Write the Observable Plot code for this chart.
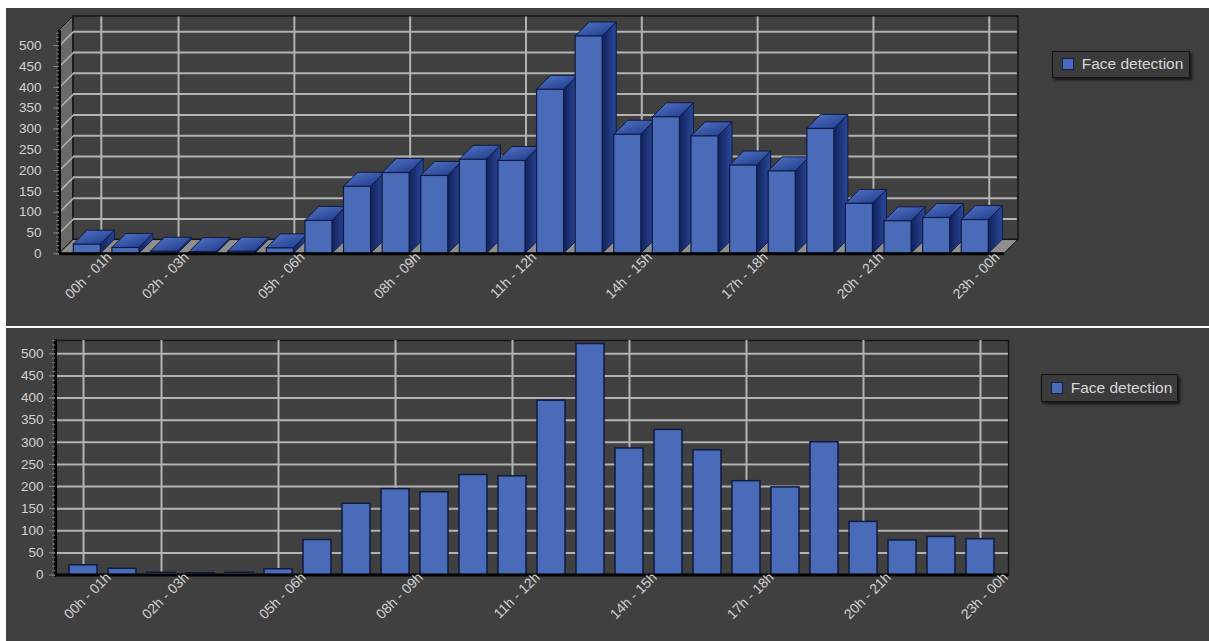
<!DOCTYPE html>
<html><head><meta charset="utf-8">
<script src="https://cdn.jsdelivr.net/npm/d3@7"></script>
<script src="https://cdn.jsdelivr.net/npm/@observablehq/plot@0.6"></script>
<style>
html,body{margin:0;padding:0;background:#fff;width:1209px;height:641px;overflow:hidden;}
.panel{position:absolute;left:6px;width:1203px;background:#404040;}
#p1{top:8px;height:318px;}
#p2{top:328px;height:313px;}
.legend{position:absolute;background:#3b3b3b;border:1px solid #141414;box-shadow:2px 2px 3px rgba(0,0,0,0.7);font-family:"Liberation Sans",Arial,sans-serif;font-size:15.5px;color:#d6d6d6;box-sizing:border-box;}
.legend .sw{position:absolute;width:10px;height:10px;background:#4a6cb8;border:1px solid #0f1d45;}
.legend .lt{position:absolute;white-space:nowrap;}
svg{position:absolute;left:0;top:0;}
</style></head><body>
<div id="p1" class="panel"></div>
<div id="p2" class="panel"></div>
<script>
// ---- data ----
const hours = ["00h - 01h","01h - 02h","02h - 03h","03h - 04h","04h - 05h","05h - 06h","06h - 07h","07h - 08h",
  "08h - 09h","09h - 10h","10h - 11h","11h - 12h","12h - 13h","13h - 14h","14h - 15h","15h - 16h",
  "16h - 17h","17h - 18h","18h - 19h","19h - 20h","20h - 21h","21h - 22h","22h - 23h","23h - 00h"];
const faceDetection = [22,14,5,4,5,13,79,161,194,187,226,223,394,522,286,328,282,212,198,300,120,78,86,81];
const yTicks = [0,50,100,150,200,250,300,350,400,450,500];
const labeledHours = ["00h - 01h","02h - 03h","05h - 06h","08h - 09h","11h - 12h","14h - 15h","17h - 18h","20h - 21h","23h - 00h"];
const seriesName = "Face detection";

// ---- styles ----
const bg = "#404040", grid = "#b2b2b2", barFill = "#4a6cb8", barStroke = "#0e1a42", txt = "#d2d2d2";
const font = "Liberation Sans, Arial, sans-serif";
const rows = hours.map((h, i) => ({hour: h, i, value: faceDetection[i]}));
const labeledRows = rows.filter(d => labeledHours.includes(d.hour));
const minorTicks = d3.range(0, 531, 10);

function legend(panel, left, top, w, h) {
  const L = document.createElement("div");
  L.className = "legend";
  Object.assign(L.style, {left: left + "px", top: top + "px", width: w + "px", height: h + "px"});
  L.innerHTML = `<div class="sw" style="left:9px;top:${(h-14)/2}px"></div><div class="lt" style="left:29px;top:${(h-20)/2}px">${seriesName}</div>`;
  panel.appendChild(L);
}

// ---- top panel: 3D bars ----
const X0 = -0.72, X1 = 24.12, YMAX = 570, DX = 0.363, DY = 33.6, HALF = 0.35;
const frontTop = YMAX - DY;
const tops = rows.flatMap(d => [
  {i: d.i, y: d.value, a: d.i - HALF, b: d.i + HALF},
  {i: d.i, y: d.value + DY, a: d.i - HALF + DX, b: d.i + HALF + DX}]);
const sides = rows.flatMap(d => [
  {i: d.i, x: d.i + HALF, lo: 0, hi: d.value},
  {i: d.i, x: d.i + HALF + DX, lo: DY, hi: d.value + DY}]);
const gridVals = yTicks.filter(t => t > 0);

const p1 = Plot.plot({
  width: 1203, height: 318,
  marginLeft: 53, marginRight: 191, marginTop: 8, marginBottom: 72.7,
  style: {background: "transparent", fontFamily: font, fontSize: "13px", color: txt},
  x: {domain: [X0, X1], axis: null},
  y: {domain: [0, YMAX], axis: null},
  marks: [
    Plot.areaX([{y: 0, a: X0, b: X1 - DX}, {y: DY, a: X0 + DX, b: X1}], {y: "y", x1: "a", x2: "b", fill: "#8e8e8e", stroke: "#111", strokeWidth: 1}),
    Plot.areaY([{x: X0, lo: 0, hi: frontTop}, {x: X0 + DX, lo: DY, hi: YMAX}], {x: "x", y1: "lo", y2: "hi", fill: "#696969", stroke: "#111", strokeWidth: 1}),
    Plot.rect([0], {x1: X0 + DX, x2: X1, y1: DY, y2: YMAX, fill: bg, stroke: "#141414", strokeWidth: 1.5}),
    Plot.ruleY(gridVals, {y: d => d + DY, x1: X0 + DX, x2: X1 - 0.03, stroke: grid, strokeWidth: 2}),
    Plot.link(gridVals, {x1: X0, y1: d => d, x2: X0 + DX, y2: d => d + DY, stroke: grid, strokeWidth: 1.5}),
    Plot.ruleX(labeledRows, {x: d => d.i + DX, y1: DY, y2: YMAX - 1, stroke: grid, strokeWidth: 2}),
    Plot.areaY(sides, {x: "x", y1: "lo", y2: "hi", z: "i", fill: "url(#sideGrad)", stroke: barStroke, strokeWidth: 1}),
    Plot.areaX(tops, {y: "y", x1: "a", x2: "b", z: "i", fill: "url(#topGrad)", stroke: barStroke, strokeWidth: 1}),
    Plot.rect(rows, {x1: d => d.i - HALF, x2: d => d.i + HALF, y1: 0, y2: "value", fill: barFill, stroke: barStroke, strokeWidth: 1.2}),
    Plot.ruleY([0], {x1: X0, x2: X1 - DX, stroke: "#000", strokeWidth: 3}),
    Plot.ruleX([X0], {y1: 0, y2: frontTop, stroke: "#000", strokeWidth: 3}),
    Plot.axisY(minorTicks.filter(t => t <= frontTop), {tickSize: 3, tickFormat: () => "", stroke: "#777", label: null}),
    Plot.axisY(yTicks, {tickSize: 6, tickPadding: 12, stroke: "#888", fill: txt, label: null, fontSize: 13.5}),
    Plot.text(labeledRows, {x: "i", y: 0, text: "hour", rotate: -45, textAnchor: "end", dx: 22, dy: 1, fill: txt, fontSize: 14})
  ]
});
const defs = document.createElementNS("http://www.w3.org/2000/svg", "defs");
defs.innerHTML = `<linearGradient id="topGrad" x1="0" y1="0" x2="1" y2="1">
  <stop offset="0" stop-color="#5477c8"/><stop offset="1" stop-color="#1d3888"/></linearGradient>
  <linearGradient id="sideGrad" x1="0" y1="0" x2="1" y2="0">
  <stop offset="0" stop-color="#12225a"/><stop offset="1" stop-color="#2a489c"/></linearGradient>`;
p1.insertBefore(defs, p1.firstChild);
const panel1 = document.getElementById("p1");
panel1.appendChild(p1);
legend(panel1, 1045.7, 42.7, 138, 27);

// ---- bottom panel: flat bars ----
const p2 = Plot.plot({
  width: 1203, height: 313,
  marginLeft: 49, marginRight: 201, marginTop: 12, marginBottom: 66.5,
  style: {background: "transparent", fontFamily: font, fontSize: "13px", color: txt},
  x: {type: "band", domain: hours, paddingInner: 0.28, paddingOuter: 0.14, insetLeft: 8.8, insetRight: 8.2, axis: null},
  y: {domain: [0, 530], axis: null},
  marks: [
    Plot.frame({fill: bg, stroke: "#151515", strokeWidth: 1.5}),
    Plot.gridY(gridVals, {stroke: grid, strokeWidth: 2, strokeOpacity: 1}),
    Plot.gridX(labeledHours, {stroke: grid, strokeWidth: 2, strokeOpacity: 1}),
    Plot.barY(rows, {x: "hour", y: "value", fill: barFill, stroke: barStroke, strokeWidth: 1.5}),
    Plot.ruleY([0], {stroke: "#000", strokeWidth: 3}),
    Plot.frame({anchor: "left", stroke: "#000", strokeWidth: 3}),
    Plot.axisY(minorTicks, {tickSize: 3, tickFormat: () => "", stroke: "#777", label: null}),
    Plot.axisY(yTicks, {tickSize: 6, tickPadding: 6, stroke: "#888", fill: txt, label: null, fontSize: 13.5}),
    Plot.text(labeledRows, {x: "hour", y: 0, text: "hour", rotate: -45, textAnchor: "end", dx: 25, dy: 0, fill: txt, fontSize: 14})
  ]
});
const panel2 = document.getElementById("p2");
panel2.appendChild(p2);
legend(panel2, 1034.7, 46.3, 137, 27.4);
</script>
</body></html>
